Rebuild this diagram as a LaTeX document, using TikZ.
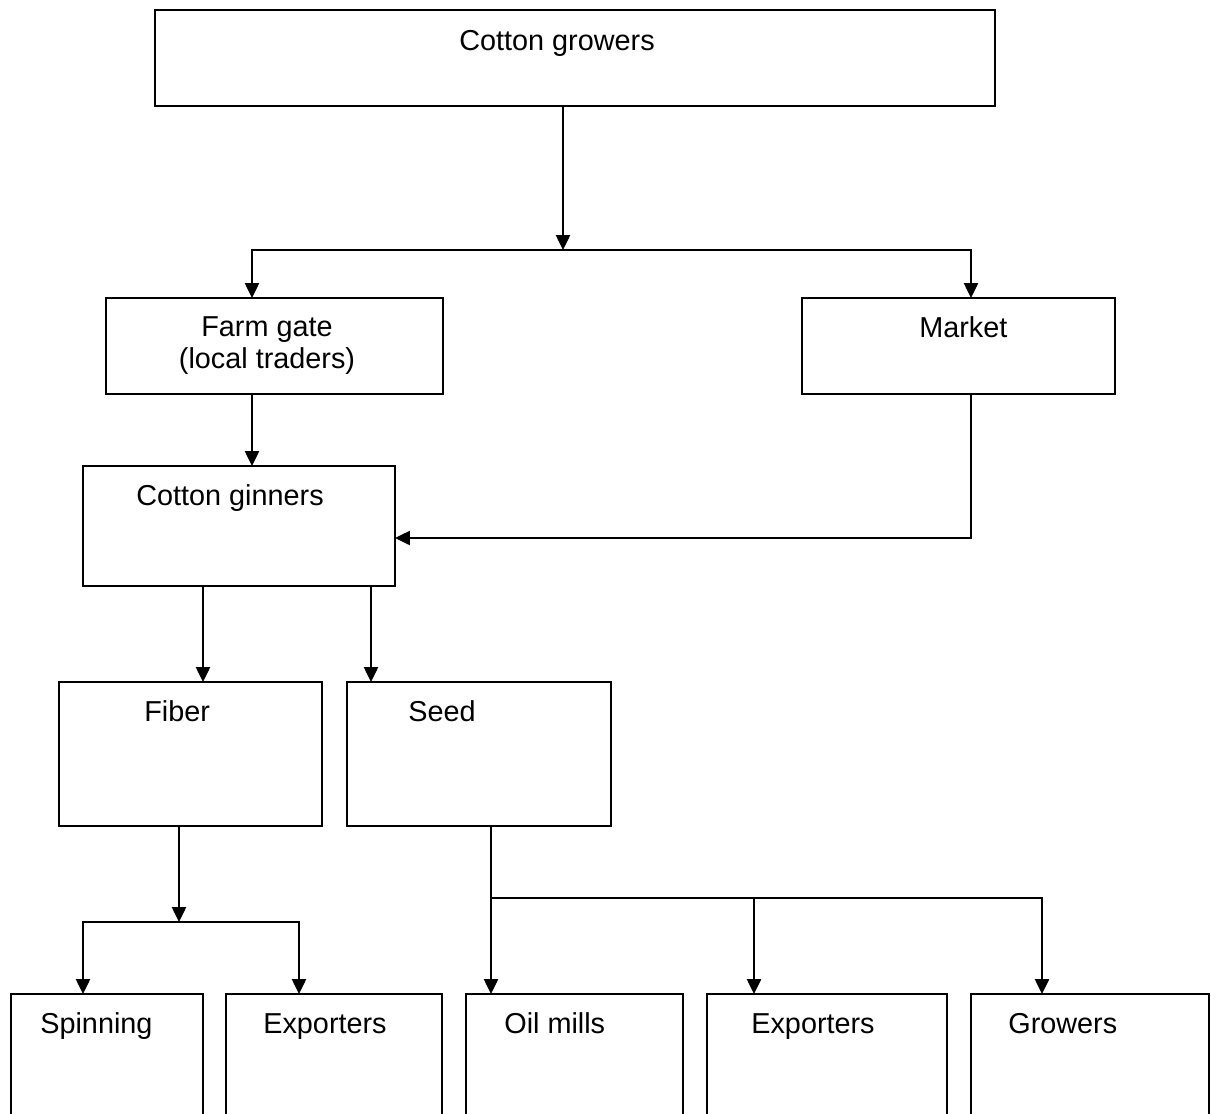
\documentclass[tikz,border=0pt]{standalone}
\usepackage{fontspec}
\setmainfont{Liberation Sans}
\usetikzlibrary{arrows.meta,calc,fit}

\begin{document}
\begin{tikzpicture}[
    x=0.02cm, y=-0.02cm,
    box/.style={
        rectangle,
        draw,
        line width=1pt,
        inner sep=0pt,
        outer sep=0pt
    },
    txt/.style={
        inner sep=0pt,
        font=\fontsize{16.4}{18.2}\selectfont
    },
    arrow/.style={
        -{Triangle[length=8.5pt, width=8pt]},
        line width=1.2pt
    },
    link/.style={
        line width=1.2pt
    }
]
    \clip (0,0) rectangle (1211,1113);

    % Cotton growers
    \node[box, fit={(155,10) (995,106)}] (growers) {};
    \node[txt, anchor=base west] (growerstext) at (459,50) {Cotton growers};

    % Farm gate and market
    \node[box, fit={(106,298) (443,394)}] (farmgate) {};
    \node[txt, align=center] (farmgatetext) at (267,346) {Farm gate\\(local traders)};
    \node[box, fit={(802,298) (1115,394)}] (market) {};
    \node[txt, anchor=base west] (markettext) at (919,337) {Market};

    % Cotton ginners
    \node[box, fit={(83,466) (395,586)}] (ginners) {};
    \node[txt, anchor=base west] (ginnerstext) at (136,505) {Cotton ginners};

    % Fiber and seed
    \node[box, fit={(59,682) (322,826)}] (fiber) {};
    \node[txt, anchor=base west] (fibertext) at (144,721) {Fiber};
    \node[box, fit={(347,682) (611,826)}] (seed) {};
    \node[txt, anchor=base west] (seedtext) at (408,721) {Seed};

    % End users (cut off at the bottom)
    \node[box, fit={(11,994) (203,1140)}] (spinning) {};
    \node[txt, anchor=base west] (spinningtext) at (40,1033) {Spinning};
    \node[box, fit={(226,994) (442,1140)}] (fiberexport) {};
    \node[txt, anchor=base west] (fiberexporttext) at (263,1033) {Exporters};
    \node[box, fit={(466,994) (683,1140)}] (oilmills) {};
    \node[txt, anchor=base west] (oilmillstext) at (504,1033) {Oil mills};
    \node[box, fit={(707,994) (947,1140)}] (seedexport) {};
    \node[txt, anchor=base west] (seedexporttext) at (751,1033) {Exporters};
    \node[box, fit={(971,994) (1209,1140)}] (seedgrowers) {};
    \node[txt, anchor=base west] (seedgrowerstext) at (1008,1033) {Growers};

    % Junctions
    \coordinate (split) at (563,250);
    \coordinate (fibersplit) at (179,922);
    \coordinate (seedsplit) at (491,898);

    % Arrows
    \draw[arrow] (growers.south -| split) -- (split);
    \draw[arrow] (split) -| ($(farmgate.north west)+(146,0)$);
    \draw[arrow] (split) -| ($(market.north west)+(169,0)$);
    \draw[arrow] ($(farmgate.south west)+(146,0)$) -- ($(ginners.north west)+(169,0)$);
    \draw[arrow] ($(market.south west)+(169,0)$) |- ($(ginners.north east)+(0,72)$);
    \draw[arrow] ($(ginners.south west)+(120,0)$) -- ($(fiber.north west)+(144,0)$);
    \draw[arrow] ($(ginners.south west)+(288,0)$) -- ($(seed.north west)+(24,0)$);

    \draw[arrow] ($(fiber.south west)+(120,0)$) -- (fibersplit);
    \draw[arrow] (fibersplit) -| ($(spinning.north west)+(72,0)$);
    \draw[arrow] (fibersplit) -| ($(fiberexport.north west)+(73,0)$);

    \draw[link] ($(seed.south west)+(144,0)$) -- (seedsplit);
    \draw[arrow] (seedsplit) -- ($(oilmills.north west)+(25,0)$);
    \draw[arrow] (seedsplit) -| ($(seedexport.north west)+(47,0)$);
    \draw[arrow] (seedsplit) -| ($(seedgrowers.north west)+(71,0)$);
\end{tikzpicture}
\end{document}
